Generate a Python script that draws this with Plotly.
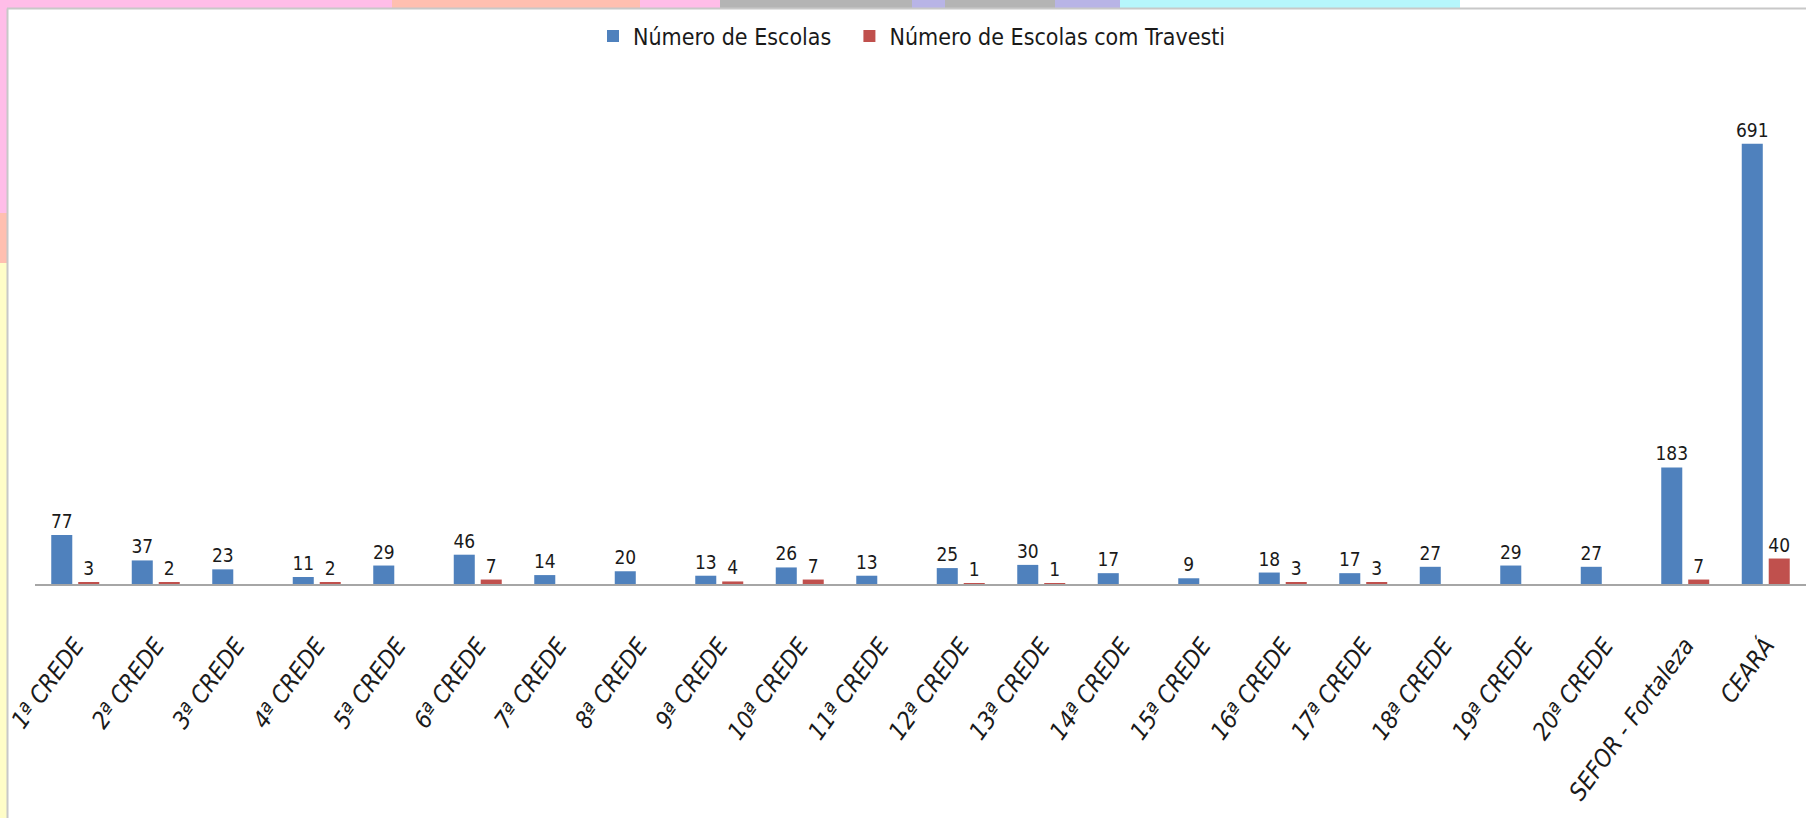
import plotly.graph_objects as go

categories = ["1ª CREDE", "2ª CREDE", "3ª CREDE", "4ª CREDE", "5ª CREDE", "6ª CREDE",
              "7ª CREDE", "8ª CREDE", "9ª CREDE", "10ª CREDE", "11ª CREDE", "12ª CREDE",
              "13ª CREDE", "14ª CREDE", "15ª CREDE", "16ª CREDE", "17ª CREDE", "18ª CREDE",
              "19ª CREDE", "20ª CREDE", "SEFOR - Fortaleza", "CEARÁ"]
escolas = [77, 37, 23, 11, 29, 46, 14, 20, 13, 26, 13, 25, 30, 17, 9, 18, 17, 27, 29, 27, 183, 691]
escolas_travesti = [3, 2, 0, 2, 0, 7, 0, 0, 4, 7, 0, 1, 1, 0, 0, 3, 3, 0, 0, 0, 7, 40]

W, H = 1806, 818
ML, MR, MT, MB = 35, 0, 10, 234
PW, PH = W - ML - MR, H - MT - MB
YTOP = PH / 0.637

FONT = "DejaVu Sans Condensed, Liberation Sans Narrow, sans-serif"

fig = go.Figure()
fig.add_trace(go.Bar(
    name="Número de Escolas\u00a0\u00a0", x=categories, y=escolas,
    marker=dict(color="#4F81BD", line=dict(width=0)),
    text=[str(v) for v in escolas], textposition="outside", constraintext="none",
    textfont=dict(family=FONT, size=19, color="#1a1a1a"), cliponaxis=False,
))
fig.add_trace(go.Bar(
    name="Número de Escolas com Travesti", x=categories, y=escolas_travesti,
    marker=dict(color="#C0504D", line=dict(width=0)),
    text=[str(v) if v else "" for v in escolas_travesti], textposition="outside",
    constraintext="none",
    textfont=dict(family=FONT, size=19, color="#1a1a1a"), cliponaxis=False,
))

def px_x(p):
    return (p - ML) / PW

def px_y(p):
    return (H - MB - p) / PH

shapes = []
def rect(x0, y0, x1, y1, color):
    shapes.append(dict(type="rect", xref="paper", yref="paper",
                       x0=px_x(x0), x1=px_x(x1), y0=px_y(y1), y1=px_y(y0),
                       fillcolor=color, line=dict(width=0), layer="below"))

# decorative border strips
rect(0, 0, 392, 8, "#FFBDE8")
rect(392, 0, 640, 8, "#FFBFB0")
rect(640, 0, 720, 8, "#FFBDE8")
rect(720, 0, 912, 8, "#B4B4B4")
rect(912, 0, 945, 8, "#B8B4E6")
rect(945, 0, 1055, 8, "#B4B4B4")
rect(1055, 0, 1120, 8, "#B8B4E6")
rect(1120, 0, 1460, 8, "#B6F6FC")
rect(0, 0, 7, 213, "#FFBDE8")
rect(0, 213, 7, 263, "#FFBFB0")
rect(0, 263, 7, 818, "#FFFDC8")
shapes.append(dict(type="line", xref="paper", yref="paper",
                   x0=px_x(7), x1=px_x(1806), y0=px_y(8.5), y1=px_y(8.5),
                   line=dict(color="#C8C8C8", width=2), layer="below"))
shapes.append(dict(type="line", xref="paper", yref="paper",
                   x0=px_x(7.5), x1=px_x(7.5), y0=px_y(8.5), y1=px_y(818),
                   line=dict(color="#C8C8C8", width=2), layer="below"))

fig.update_layout(
    width=W, height=H,
    margin=dict(l=ML, r=MR, t=MT, b=MB, autoexpand=False),
    paper_bgcolor="white", plot_bgcolor="rgba(0,0,0,0)",
    barmode="group", bargap=0.33, bargroupgap=0.22,
    font=dict(family=FONT, color="#1a1a1a"),
    showlegend=True,
    legend=dict(orientation="h", x=px_x(912), xanchor="center",
                y=px_y(36), yanchor="middle",
                font=dict(family=FONT, size=23, color="#1a1a1a"),
                bgcolor="rgba(0,0,0,0)", itemwidth=30),
    xaxis=dict(showline=True, linecolor="#A6A6A6", linewidth=1.5, automargin=False,
               tickmode="array", tickvals=categories,
               ticktext=[f"<i>{c}</i>" for c in categories],
               tickangle=-54, ticks="outside", ticklen=36, tickcolor="rgba(0,0,0,0)",
               tickfont=dict(family=FONT, size=24, color="#1a1a1a"),
               showgrid=False, zeroline=False),
    yaxis=dict(range=[0, YTOP], visible=False, showgrid=False, zeroline=False,
               automargin=False),
    shapes=shapes,
)

fig.write_html("out.html", config={"displayModeBar": False},
               post_script="document.body.style.margin='0';document.body.style.overflow='hidden';")
